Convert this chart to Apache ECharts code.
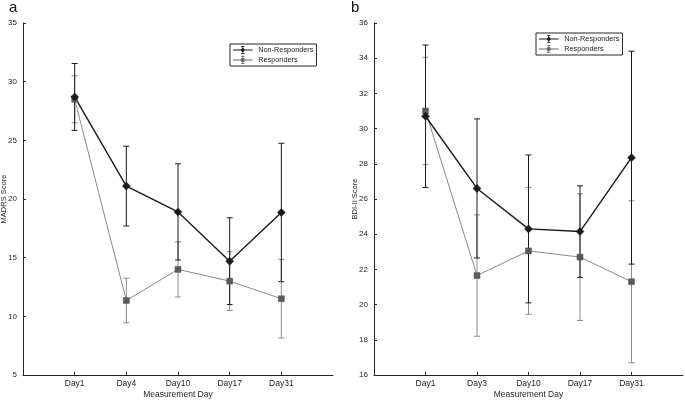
<!DOCTYPE html>
<html>
<head>
<meta charset="utf-8">
<script src="https://cdn.jsdelivr.net/npm/echarts@6/dist/echarts.min.js"></script>
<style>html,body{margin:0;padding:0;background:#fff}#c{width:685px;height:400px}</style>
</head>
<body>
<div id="c"></div>
<script>
// ---- Data ----
var daysA = ['Day1', 'Day4', 'Day10', 'Day17', 'Day31'];
var daysB = ['Day1', 'Day3', 'Day10', 'Day17', 'Day31'];
var seriesNames = ['Non-Responders', 'Responders'];

// Panel a: MADRS
var madrsNR = [28.7, 21.1, 18.9, 14.7, 18.85];
var madrsNRErr = [2.85, 3.4, 4.1, 3.7, 5.9];
var madrsR = [28.5, 11.35, 14.0, 13.0, 11.5];
var madrsRErr = [2.0, 1.9, 2.35, 2.5, 3.35];

// Panel b: BDI-II
var bdiNR = [30.7, 26.6, 24.3, 24.15, 28.35];
var bdiNRErr = [4.05, 3.95, 4.2, 2.6, 6.05];
var bdiR = [31.0, 21.65, 23.05, 22.7, 21.3];
var bdiRErr = [3.05, 3.45, 3.6, 3.6, 4.6];

var yTicksA = {min: 5, max: 35, interval: 5};
var yTicksB = {min: 16, max: 36, interval: 2};

// ---- Helpers ----
var FONT = 'Liberation Sans, Arial, sans-serif';
var BLACK = '#1a1a1a', GRAY = '#8a8a8a';

function pad(cats) { return [''].concat(cats, ['']); }
function pts(vals) { return vals.map(function (v, i) { return [i + 1, v]; }); }
function errData(vals, errs) { return vals.map(function (v, i) { return [i + 1, v - errs[i], v + errs[i]]; }); }

function errorSeries(idx, vals, errs, color, z) {
  return {
    type: 'custom', xAxisIndex: idx, yAxisIndex: idx, z: z, silent: true,
    data: errData(vals, errs),
    renderItem: function (params, api) {
      var x = api.value(0);
      var lo = api.coord([x, api.value(1)]);
      var hi = api.coord([x, api.value(2)]);
      var w = 3;
      var st = {stroke: color, lineWidth: 1, fill: null};
      return {type: 'group', children: [
        {type: 'line', shape: {x1: lo[0], y1: lo[1], x2: hi[0], y2: hi[1]}, style: st},
        {type: 'line', shape: {x1: lo[0] - w, y1: lo[1], x2: lo[0] + w, y2: lo[1]}, style: st},
        {type: 'line', shape: {x1: hi[0] - w, y1: hi[1], x2: hi[0] + w, y2: hi[1]}, style: st}
      ]};
    }
  };
}

function xAxis(idx, cats) {
  return {
    type: 'category', gridIndex: idx, data: pad(cats), boundaryGap: false,
    name: 'Measurement Day', nameLocation: 'middle', nameGap: 15, nameMoveOverlap: false,
    nameTextStyle: {fontFamily: FONT, fontSize: 8.5, color: '#262626'},
    axisLine: {lineStyle: {color: '#262626', width: 1}},
    axisTick: {inside: true, length: 3, lineStyle: {color: '#262626'},
      interval: function (i) { return i > 0 && i < cats.length + 1; }},
    axisLabel: {fontFamily: FONT, fontSize: 8.5, color: '#262626', margin: 4, interval: 0},
    splitLine: {show: false}
  };
}

function yAxis(idx, t, name) {
  return {
    type: 'value', gridIndex: idx, min: t.min, max: t.max, interval: t.interval,
    name: name, nameLocation: 'middle', nameGap: 15, nameRotate: 90, nameMoveOverlap: false,
    nameTextStyle: {fontFamily: FONT, fontSize: 7.5, color: '#262626'},
    axisLine: {show: true, lineStyle: {color: '#262626', width: 1}},
    axisTick: {show: true, inside: true, length: 3, lineStyle: {color: '#262626'}},
    axisLabel: {fontFamily: FONT, fontSize: 8, color: '#262626', margin: 6},
    splitLine: {show: false}
  };
}

function lineSeries(idx, name, vals, color, lineColor, symbol, size, width) {
  return {
    type: 'line', name: name, xAxisIndex: idx, yAxisIndex: idx, z: 5,
    data: pts(vals), symbol: symbol, symbolSize: size, showSymbol: true,
    lineStyle: {color: lineColor, width: width},
    itemStyle: {color: color, borderColor: color, borderWidth: 0.5},
    emphasis: {disabled: true}, animation: false
  };
}

var iconNR = 'path://M0 4h22v1H0z M10.5 0h1v9h-1z M9 0h4v0.8H9z M9 8.2h4V9H9z M11 1.8l2.7 2.7L11 7.2 8.3 4.5z';
var iconR = 'path://M0 4h22v1H0z M10.5 0h1v9h-1z M9 0h4v0.8H9z M9 8.2h4V9H9z M9 2.5h4v4H9z';

function legend(left, top) {
  return {
    left: left, top: top, orient: 'vertical',
    backgroundColor: '#fff', borderColor: '#262626', borderWidth: 1, borderRadius: 0,
    padding: [2, 3, 2, 3], itemGap: 2, itemWidth: 21, itemHeight: 8,
    textStyle: {fontFamily: FONT, fontSize: 7.3, color: '#1a1a1a'},
    selectedMode: false,
    itemStyle: {borderWidth: 0},
    lineStyle: {width: 0},
    data: [
      {name: seriesNames[0], icon: iconNR, itemStyle: {color: BLACK, borderWidth: 0}},
      {name: seriesNames[1], icon: iconR, itemStyle: {color: '#666', borderWidth: 0}}
    ]
  };
}

var chart = echarts.init(document.getElementById('c'), null, {renderer: 'canvas'});
chart.setOption({
  animation: false,
  backgroundColor: '#fff',
  grid: [
    {left: 23, right: 352, top: 23, bottom: 25, outerBoundsMode: 'none', containLabel: false},
    {left: 374, right: 2, top: 23, bottom: 25, outerBoundsMode: 'none', containLabel: false}
  ],
  xAxis: [xAxis(0, daysA), xAxis(1, daysB)],
  yAxis: [yAxis(0, yTicksA, 'MADRS Score'), yAxis(1, yTicksB, 'BDI-II Score')],
  legend: [legend(230, 44), legend(536, 33)],
  graphic: [
    {type: 'text', left: 9, top: 0, style: {text: 'a', font: '15px ' + FONT, fill: '#111'}},
    {type: 'text', left: 351, top: 0, style: {text: 'b', font: '15px ' + FONT, fill: '#111'}}
  ],
  series: [
    errorSeries(0, madrsR, madrsRErr, GRAY, 2),
    errorSeries(0, madrsNR, madrsNRErr, BLACK, 3),
    lineSeries(0, seriesNames[1], madrsR, '#5a5a5a', GRAY, 'rect', 6, 1),
    lineSeries(0, seriesNames[0], madrsNR, BLACK, BLACK, 'diamond', 8, 1.4),
    errorSeries(1, bdiR, bdiRErr, GRAY, 2),
    errorSeries(1, bdiNR, bdiNRErr, BLACK, 3),
    lineSeries(1, seriesNames[1], bdiR, '#5a5a5a', GRAY, 'rect', 6, 1),
    lineSeries(1, seriesNames[0], bdiNR, BLACK, BLACK, 'diamond', 8, 1.4)
  ]
});
</script>
</body>
</html>
